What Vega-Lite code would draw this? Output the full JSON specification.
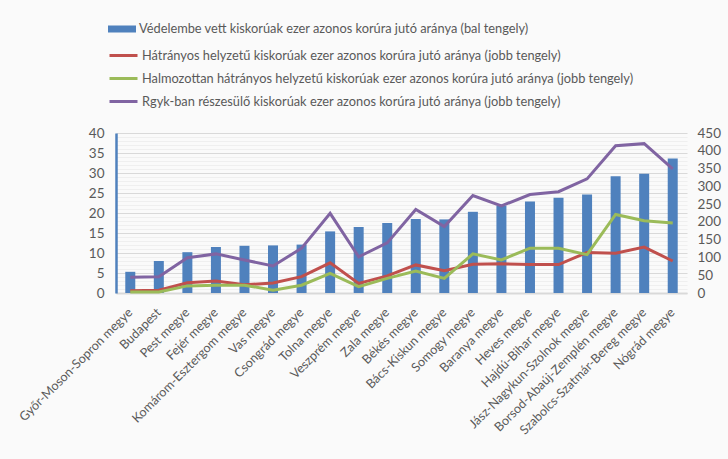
{
  "$schema": "https://vega.github.io/schema/vega-lite/v6.json",
  "width": 571,
  "height": 160,
  "autosize": {"type": "none"},
  "padding": {"left": 116, "top": 133, "right": 41, "bottom": 166},
  "background": "#fafafa",
  "config": {
    "font": "Lato",
    "view": {"stroke": null},
    "axis": {"labelColor": "#595959", "labelFont": "Lato", "title": null, "ticks": false},
    "legend": {"labelFont": "Lato", "labelColor": "#595959", "padding": 0}
  },
  "data": {
    "values": [
      {"megye": "Győr-Moson-Sopron megye", "vedelembe": 5.3, "hatranyos": 6, "halmozottan": 3, "rgyk": 44},
      {"megye": "Budapest", "vedelembe": 8.0, "hatranyos": 8, "halmozottan": 3, "rgyk": 46},
      {"megye": "Pest megye", "vedelembe": 10.2, "hatranyos": 29, "halmozottan": 20, "rgyk": 99},
      {"megye": "Fejér megye", "vedelembe": 11.5, "hatranyos": 34, "halmozottan": 22, "rgyk": 110},
      {"megye": "Komárom-Esztergom megye", "vedelembe": 11.8, "hatranyos": 23, "halmozottan": 22, "rgyk": 93},
      {"megye": "Vas megye", "vedelembe": 11.9, "hatranyos": 28, "halmozottan": 8, "rgyk": 76},
      {"megye": "Csongrád megye", "vedelembe": 12.1, "hatranyos": 46, "halmozottan": 22, "rgyk": 126},
      {"megye": "Tolna megye", "vedelembe": 15.4, "hatranyos": 85, "halmozottan": 55, "rgyk": 224},
      {"megye": "Veszprém megye", "vedelembe": 16.5, "hatranyos": 27, "halmozottan": 18, "rgyk": 102},
      {"megye": "Zala megye", "vedelembe": 17.5, "hatranyos": 48, "halmozottan": 41, "rgyk": 141},
      {"megye": "Békés megye", "vedelembe": 18.5, "hatranyos": 79, "halmozottan": 62, "rgyk": 235},
      {"megye": "Bács-Kiskun megye", "vedelembe": 18.4, "hatranyos": 63, "halmozottan": 41, "rgyk": 187},
      {"megye": "Somogy megye", "vedelembe": 20.3, "hatranyos": 81, "halmozottan": 110, "rgyk": 274},
      {"megye": "Baranya megye", "vedelembe": 21.8, "hatranyos": 82, "halmozottan": 93, "rgyk": 245},
      {"megye": "Heves megye", "vedelembe": 22.9, "hatranyos": 80, "halmozottan": 126, "rgyk": 277},
      {"megye": "Hajdú-Bihar megye", "vedelembe": 23.8, "hatranyos": 80, "halmozottan": 126, "rgyk": 285},
      {"megye": "Jász-Nagykun-Szolnok megye", "vedelembe": 24.6, "hatranyos": 114, "halmozottan": 108, "rgyk": 321},
      {"megye": "Borsod-Abaúj-Zemplén megye", "vedelembe": 29.2, "hatranyos": 112, "halmozottan": 221, "rgyk": 414},
      {"megye": "Szabolcs-Szatmár-Bereg megye", "vedelembe": 29.8, "hatranyos": 129, "halmozottan": 203, "rgyk": 420},
      {"megye": "Nógrád megye", "vedelembe": 33.6, "hatranyos": 90, "halmozottan": 197, "rgyk": 349}
    ]
  },
  "encoding": {
    "x": {
      "field": "megye",
      "type": "nominal",
      "sort": null,
      "scale": {"paddingInner": 0, "paddingOuter": 0},
      "axis": {
        "labelAngle": -45,
        "labelAlign": "right",
        "labelBaseline": "middle",
        "labelFontSize": 12.6,
        "labelPadding": 17,
        "labelLimit": 400,
        "domainColor": "#d9d9d9",
        "domainWidth": 2
      }
    }
  },
  "layer": [
    {
      "mark": {"type": "bar", "size": 10},
      "encoding": {
        "y": {
          "field": "vedelembe",
          "type": "quantitative",
          "scale": {"domain": [0, 40], "nice": false},
          "axis": {
            "orient": "left",
            "values": [0,1,2,3,4,5,6,7,8,9,10,11,12,13,14,15,16,17,18,19,20,21,22,23,24,25,26,27,28,29,30,31,32,33,34,35,36,37,38,39,40],
            "labelExpr": "datum.value % 5 === 0 ? datum.label : ''",
            "gridColor": {"condition": {"test": "datum.value % 5 === 0", "value": "#d9d9d9"}, "value": "#efefef"},
            "grid": true,
            "labelFontSize": 13.5,
            "labelPadding": 12,
            "domainColor": "#4f81bd",
            "domainWidth": 2.5
          }
        },
        "fill": {
          "datum": "Védelembe vett kiskorúak ezer azonos korúra jutó aránya (bal tengely)",
          "scale": {"range": ["#4f81bd"]},
          "legend": {
            "orient": "none",
            "legendX": -8,
            "legendY": -118,
            "title": null,
            "symbolType": "M-1,-0.25H1V0.25H-1Z",
            "symbolSize": 784,
            "symbolStrokeWidth": 0,
            "labelFontSize": 12.8,
            "labelOffset": 3,
            "labelLimit": 700
          }
        }
      }
    },
    {
      "transform": [{"fold": ["hatranyos", "halmozottan", "rgyk"], "as": ["sorozat", "ertek"]}],
      "mark": {"type": "line", "strokeWidth": 3},
      "encoding": {
        "y": {
          "field": "ertek",
          "type": "quantitative",
          "scale": {"domain": [0, 450], "nice": false},
          "axis": {
            "orient": "right",
            "values": [0, 50, 100, 150, 200, 250, 300, 350, 400, 450],
            "grid": false,
            "domain": false,
            "labelFontSize": 13.5,
            "labelPadding": 10
          }
        },
        "stroke": {
          "field": "sorozat",
          "type": "nominal",
          "scale": {"domain": ["hatranyos", "halmozottan", "rgyk"], "range": ["#c0504d", "#9bbb59", "#8064a2"]},
          "legend": {
            "orient": "none",
            "legendX": -8,
            "legendY": -93,
            "title": null,
            "symbolType": "stroke",
            "symbolSize": 784,
            "symbolStrokeWidth": 3,
            "rowPadding": 0,
            "labelFontSize": 12.8,
            "labelOffset": 3,
            "labelLimit": 700,
            "labelExpr": "datum.value === 'hatranyos' ? 'Hátrányos helyzetű kiskorúak ezer azonos korúra jutó aránya (jobb tengely)' : datum.value === 'halmozottan' ? 'Halmozottan hátrányos helyzetű kiskorúak ezer azonos korúra jutó aránya (jobb tengely)' : 'Rgyk-ban részesülő kiskorúak ezer azonos korúra jutó aránya (jobb tengely)'"
          }
        }
      }
    }
  ],
  "resolve": {"scale": {"y": "independent"}}
}
